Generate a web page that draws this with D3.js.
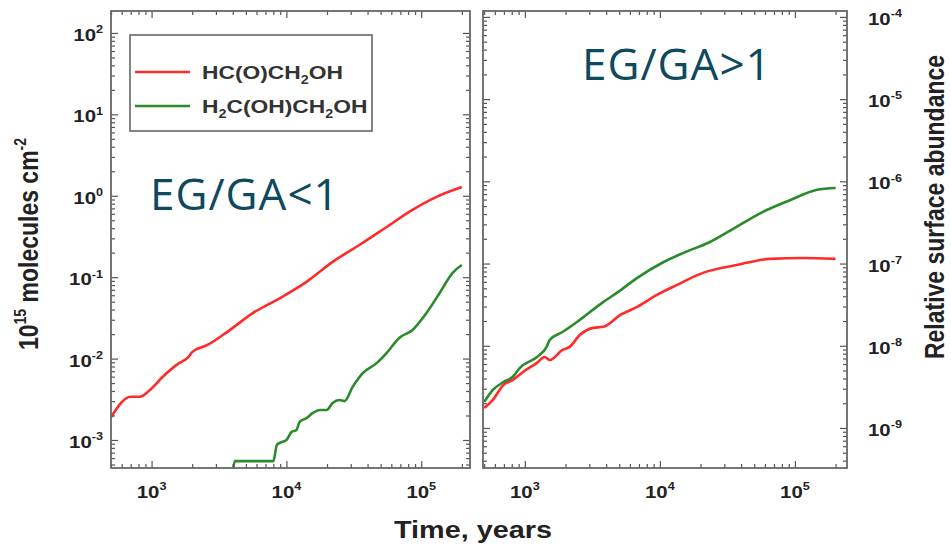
<!DOCTYPE html>
<html>
<head>
<meta charset="utf-8">
<script src="https://cdn.jsdelivr.net/npm/d3@7"></script>
<style>
  body { margin: 0; background: #fff; }
  svg { display: block; }
</style>
</head>
<body>
<script>
// values (time in years)
const leftGA_t = [500, 700, 820, 1000, 1200, 1600, 1850, 2000, 2600, 3600, 5600, 8900, 14000, 22000, 35000, 55000, 86000, 130000, 200000]
const leftGA_v = [1.9e-3, 3.4e-3, 3.4e-3, 4.3e-3, 5.9e-3, 8.8e-3, 1.02e-2, 1.2e-2, 1.47e-2, 2.1e-2, 3.6e-2, 5.5e-2, 8.7e-2, 0.154, 0.25, 0.41, 0.67, 0.97, 1.28]

const leftEG_t = [4000, 4150, 8000, 8500, 9200, 10000, 10900, 11900, 12500, 14100, 15700, 17700, 19900, 22000, 24800, 27000, 31000, 36700, 46700, 55300, 69000, 86300, 109000, 137000, 171000, 200000]
const leftEG_v = [4.0e-4, 5.5e-4, 5.5e-4, 8.7e-4, 9.4e-4, 1.0e-3, 1.25e-3, 1.33e-3, 1.66e-3, 1.86e-3, 2.15e-3, 2.34e-3, 2.34e-3, 2.85e-3, 3.1e-3, 3.0e-3, 4.5e-3, 6.6e-3, 8.8e-3, 1.17e-2, 1.8e-2, 2.25e-2, 3.6e-2, 6.4e-2, 0.113, 0.141]

const rightGA_t = [500, 580, 690, 815, 970, 1230, 1400, 1530, 1900, 2150, 2550, 3200, 3800, 5100, 6800, 9500, 13400, 20800, 37000, 65000, 115000, 200000]
const rightGA_v = [1.75e-9, 2.2e-9, 3.3e-9, 3.85e-9, 4.8e-9, 6.2e-9, 7.3e-9, 6.7e-9, 8.9e-9, 9.7e-9, 1.35e-8, 1.65e-8, 1.7e-8, 2.37e-8, 2.97e-8, 4.15e-8, 5.5e-8, 7.7e-8, 9.6e-8, 1.14e-7, 1.17e-7, 1.14e-7]

const rightEG_t = [500, 580, 690, 815, 920, 1230, 1450, 1530, 1900, 2550, 3800, 4800, 6800, 10500, 15000, 23500, 37000, 58000, 92000, 146000, 200000]
const rightEG_v = [2.07e-9, 2.9e-9, 3.6e-9, 4.2e-9, 5.4e-9, 7.3e-9, 9.7e-9, 1.18e-8, 1.47e-8, 2.06e-8, 3.4e-8, 4.4e-8, 6.7e-8, 1.03e-7, 1.35e-7, 1.83e-7, 2.8e-7, 4.25e-7, 5.9e-7, 7.9e-7, 8.3e-7]

const xTickExps = [3, 4, 5]
const leftTickExps = [2, 1, 0, -1, -2, -3]
const rightTickExps = [-4, -5, -6, -7, -8, -9]
// each name split in [text, subscript?] pieces
const legendNames = [
    [["HC(O)CH", false], ["2", true], ["OH", false]],
    [["H", false], ["2", true], ["C(OH)CH", false], ["2", true], ["OH", false]]
]

const RED = "#ff2a2a"
const GREEN = "#2b8a2b"
const SX = 1.2 // the source figure is stretched sideways a bit

const svg = d3.select("body").append("svg").attr("width", 951).attr("height", 547)

const plotTop = 11, plotBottom = 468

const xL = d3.scaleLog().domain([500, 2.3e5]).range([111, 470])
const yL = d3.scaleLog().domain([4.53e-4, 186]).range([plotBottom, plotTop])
const xR = d3.scaleLog().domain([490, 2.43e5]).range([483, 847])
const yR = d3.scaleLog().domain([3.26e-10, 1.18e-4]).range([plotBottom, plotTop])

function logTicks(dom) {
    let out = []
    let lo = Math.floor(Math.log10(dom[0])), hi = Math.ceil(Math.log10(dom[1]))
    for (let n = lo; n <= hi; n++) {
        for (let k = 1; k <= 9; k++) {
            let v = k * Math.pow(10, n)
            if (v >= dom[0] && v <= dom[1]) out.push({ v: v, major: k === 1 })
        }
    }
    return out
}

function drawTicks(g, x, y) {
    let xt = logTicks(x.domain()), yt = logTicks(y.domain())
    let xr = x.range(), yr = y.range()
    let sets = [
        [() => d3.axisBottom(x), xt, "translate(0," + yr[0] + ")"],
        [() => d3.axisTop(x), xt, "translate(0," + yr[1] + ")"],
        [() => d3.axisLeft(y), yt, "translate(" + xr[0] + ",0)"],
        [() => d3.axisRight(y), yt, "translate(" + xr[1] + ",0)"]
    ]
    sets.forEach(s => {
        [true, false].forEach(major => {
            let vals = s[1].filter(d => d.major === major).map(d => d.v)
            let ax = g.append("g").attr("transform", s[2])
                .call(s[0]().tickValues(vals).tickSize(major ? -7 : -4).tickFormat(""))
            ax.select(".domain").remove()
            ax.selectAll("line").attr("stroke", "#555").attr("stroke-width", 1.2)
        })
    })
}

function powLabel(g, x, y, exp, anchor, size) {
    let t = g.append("text")
        .attr("transform", "translate(" + x + "," + y + ") scale(" + SX + ",1)")
        .attr("text-anchor", anchor)
        .attr("font-family", "Liberation Sans, Arial, sans-serif")
        .attr("font-weight", "bold")
        .attr("font-size", size)
        .attr("fill", "#222")
    t.append("tspan").text("10")
    t.append("tspan").attr("dy", -size * 0.45).attr("font-size", size * 0.62).text(exp)
    return t
}

function panel(x, y, series, clipId) {
    let g = svg.append("g")
    let xr = x.range(), yr = y.range()
    svg.append("clipPath").attr("id", clipId).append("rect")
        .attr("x", xr[0]).attr("y", yr[1]).attr("width", xr[1] - xr[0]).attr("height", yr[0] - yr[1])

    let line = d3.line().x(d => x(d[0])).y(d => y(d[1])).curve(d3.curveMonotoneX)
    series.forEach(s => {
        g.append("path")
            .datum(d3.zip(s.t, s.v))
            .attr("clip-path", "url(#" + clipId + ")")
            .attr("fill", "none")
            .attr("stroke", s.color)
            .attr("stroke-width", 2.6)
            .attr("stroke-linejoin", "round")
            .attr("d", line)
    })

    drawTicks(g, x, y)
    g.append("rect")
        .attr("x", xr[0]).attr("y", yr[1]).attr("width", xr[1] - xr[0]).attr("height", yr[0] - yr[1])
        .attr("fill", "none").attr("stroke", "#666").attr("stroke-width", 1.8)

    xTickExps.forEach(e => powLabel(g, x(Math.pow(10, e)), 498, e, "middle", 17))
    return g
}

panel(xL, yL, [
    { t: leftGA_t, v: leftGA_v, color: RED },
    { t: leftEG_t, v: leftEG_v, color: GREEN }
], "clipL")

panel(xR, yR, [
    { t: rightGA_t, v: rightGA_v, color: RED },
    { t: rightEG_t, v: rightEG_v, color: GREEN }
], "clipR")

leftTickExps.forEach(e => powLabel(svg, 103, yL(Math.pow(10, e)) + 8, e, "end", 17))
rightTickExps.forEach(e => powLabel(svg, 868, yR(Math.pow(10, e)) + 8, e, "start", 17))

// legend
let leg = svg.append("g")
leg.append("rect").attr("x", 130).attr("y", 35).attr("width", 242).attr("height", 96)
    .attr("fill", "#fff").attr("stroke", "#666").attr("stroke-width", 1.6)
legendNames.forEach((parts, i) => {
    let ly = 72 + i * 34
    leg.append("line").attr("x1", 135).attr("x2", 190).attr("y1", ly).attr("y2", ly)
        .attr("stroke", i === 0 ? RED : GREEN).attr("stroke-width", 2.6)
    let t = leg.append("text")
        .attr("transform", "translate(202," + (ly + 7) + ") scale(" + SX + ",1)")
        .attr("font-family", "Liberation Sans, Arial, sans-serif")
        .attr("font-weight", "bold").attr("font-size", 19).attr("fill", "#333")
    let shift = 0
    parts.forEach(p => {
        let want = p[1] ? 5 : 0
        let sp = t.append("tspan").attr("dy", want - shift).text(p[0])
        if (p[1]) sp.attr("font-size", 12)
        shift = want
    })
})

// axis titles
svg.append("text")
    .attr("transform", "translate(473,538) scale(" + SX + ",1)")
    .attr("text-anchor", "middle")
    .attr("font-family", "Liberation Sans, Arial, sans-serif")
    .attr("font-weight", "bold").attr("font-size", 24).attr("fill", "#222")
    .text("Time, years")

let yt = svg.append("text")
    .attr("transform", "translate(38,244) scale(" + SX + ",1) rotate(-90)")
    .attr("text-anchor", "middle")
    .attr("font-family", "Liberation Sans, Arial, sans-serif")
    .attr("font-weight", "bold").attr("font-size", 23).attr("fill", "#222")
yt.append("tspan").text("10")
yt.append("tspan").attr("dy", -10).attr("font-size", 14).text("15")
yt.append("tspan").attr("dy", 10).text(" molecules cm")
yt.append("tspan").attr("dy", -10).attr("font-size", 14).text("-2")

svg.append("text")
    .attr("transform", "translate(944,207) scale(" + SX + ",1) rotate(-90)")
    .attr("text-anchor", "middle")
    .attr("font-family", "Liberation Sans, Arial, sans-serif")
    .attr("font-weight", "bold").attr("font-size", 23).attr("fill", "#222")
    .text("Relative surface abundance")

// annotations
const noteColor = "#0e4a5e"
svg.append("text").attr("x", 150).attr("y", 210)
    .attr("font-family", "Open Sans, Noto Sans, sans-serif").attr("font-size", 44).attr("fill", noteColor)
    .attr("letter-spacing", 1)
    .text("EG/GA<1")
svg.append("text").attr("x", 582).attr("y", 80)
    .attr("font-family", "Open Sans, Noto Sans, sans-serif").attr("font-size", 44).attr("fill", noteColor)
    .attr("letter-spacing", 1)
    .text("EG/GA>1")
</script>
</body>
</html>
